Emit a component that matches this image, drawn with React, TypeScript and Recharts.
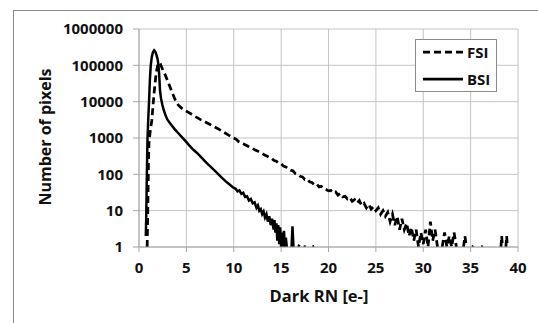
import {
    LineChart,
    Line,
    XAxis,
    YAxis,
    CartesianGrid,
    Legend,
    Label,
} from "recharts";

const font = "'Open Sans', 'DejaVu Sans', sans-serif";

const xTicks = [0, 5, 10, 15, 20, 25, 30, 35, 40];
const yTicks = [1, 10, 100, 1000, 10000, 100000, 1000000];

// FSI: dashed curve (x = dark read noise in e-, y = pixel count)
const fsiX = [
    0.86, 0.9, 0.95, 1.0, 1.05, 1.15, 1.25, 1.35, 1.42, 1.5, 1.6, 1.7, 1.8, 1.95,
    2.1, 2.25, 2.45, 2.75, 3.1, 3.46, 3.8, 4.16, 4.6, 5.1, 5.6, 6.0, 6.5, 7.0, 7.5,
    8.0, 8.5, 9.0, 9.5, 10.0, 10.25, 10.5, 10.75, 11.0, 11.25, 11.5, 11.75, 12.0,
    12.25, 12.5, 12.75, 13.0, 13.25, 13.5, 13.75, 14.0, 14.25, 14.5, 14.75, 15.0,
    15.25, 15.5, 15.75, 16.0, 16.25, 16.5, 16.75, 17.0, 17.25, 17.5, 17.75, 18.0,
    18.25, 18.5, 18.75, 19.0, 19.25, 19.5, 19.75, 20.0, 20.25, 20.5, 20.75, 21.0,
    21.25, 21.5, 21.75, 22.0, 22.25, 22.5, 22.75, 23.0, 23.25, 23.5, 23.75, 24.0,
    24.25, 24.5, 24.75, 25.0, 25.25, 25.5, 25.75, 26.0, 26.25, 26.5, 26.75, 27.0,
    27.25, 27.5, 27.75, 28.0, 28.25, 28.5, 28.75, 29.0, 29.25, 29.5, 29.75, 30.0,
    30.25, 30.5, 30.75, 31.0, 31.25, 31.5, 31.75, 32.0, 32.25, 32.5, 32.75, 33.0,
    33.25, 33.5, 33.75, 34.25, 34.4, 34.55, 34.7, 35.15, 35.3, 35.4, 36.15, 36.3,
    36.4, 38.2, 38.28, 38.36, 38.5, 38.72, 38.8, 38.88,
];
const fsiY = [
    1, 4, 25, 200, 700, 1300, 2000, 3000, 5000, 9000, 18000, 33000, 58000, 95000,
    120000, 110000, 82000, 56000, 33000, 19000, 11500, 8000, 6300, 5300, 4400, 3800,
    3200, 2750, 2350, 2000, 1700, 1420, 1180, 1000, 930, 800, 740, 690, 640, 590,
    560, 510, 470, 440, 400, 380, 340, 320, 290, 275, 240, 230, 200, 195, 170, 160,
    145, 130, 125, 105, 100, 88, 85, 72, 74, 62, 60, 52, 55, 45, 47, 40, 38, 35, 36,
    31, 33, 27, 30, 24, 25, 21, 23, 18, 20, 16, 19, 14, 16, 12, 15, 11, 13, 10, 12,
    8, 10, 7, 9, 5, 8, 4, 7, 3, 6, 3, 4.5, 2, 3.5, 1.5, 3, 1, 2.5, 1.2, 3, 1, 5, 1.5,
    3, 1, null, 1, 2.5, 1, 2, 1, 2.5, 1, null, 1, 2, 1, null, 1, 1.05, null, 1, 1.05,
    null, 1, 2, 1, null, 1, 2, 1,
];

// BSI: solid curve
const bsiX = [
    0.72, 0.76, 0.8, 0.85, 0.9, 0.98, 1.06, 1.15, 1.24, 1.35, 1.47, 1.6, 1.72, 1.85,
    1.96, 2.06, 2.14, 2.22, 2.32, 2.45, 2.6, 2.8, 3.0, 3.2, 3.46, 3.8, 4.16, 4.5,
    4.87, 5.3, 5.8, 6.2, 6.6, 7.1, 7.6, 8.1, 8.6, 9.1, 9.5, 9.9, 10.2, 10.4, 10.6,
    10.8, 11.0, 11.2, 11.4, 11.6, 11.8, 12.0, 12.2, 12.4, 12.55, 12.7, 12.85, 13.0,
    13.15, 13.3, 13.45, 13.6, 13.75, 13.9, 14.05, 14.2, 14.3, 14.4, 14.5, 14.6, 14.7,
    14.8, 14.9, 15.0, 15.1, 15.2, 15.3, 15.4, 15.5, 15.6, 15.65, 16.1, 16.2, 16.3,
    16.35, 16.8, 16.95, 17.05, 17.4, 17.6, 17.65, 18.3, 18.5,
];
const bsiY = [
    2, 6, 30, 200, 1000, 3500, 10000, 40000, 100000, 170000, 230000, 260000, 240000,
    190000, 150000, 100000, 50000, 20000, 12500, 8500, 6000, 4200, 3200, 2700, 2200,
    1700, 1350, 1080, 850, 630, 460, 370, 290, 210, 158, 118, 88, 66, 54, 44, 40, 34,
    36, 29, 31, 24, 25, 19, 21, 16, 17, 12, 14, 10, 11, 8, 9.5, 6.5, 8, 5, 7, 4, 6, 3,
    5.5, 2.5, 4.5, 1.5, 4, 1.2, 3.5, 1, 2.5, 1, 2.8, 1, 1.8, 1, null, 1, 3.7, 1, null,
    1, 1.15, null, 1, 1.05, null, 1, 1.05,
];

const toPoints = (xs: number[], ys: (number | null)[]) =>
    xs.map((x, i) => ({ x, y: ys[i] }));

const fsiData = toPoints(fsiX, fsiY);
const bsiData = toPoints(bsiX, bsiY);

const series = [
    { name: "FSI", dash: "7 4" },
    { name: "BSI", dash: undefined },
];

const XTick = (props: any) => {
    const { x, y, payload } = props;
    return (
        <text
            x={x}
            y={y}
            dy="0.71em"
            textAnchor="middle"
            fill="#111"
            fontFamily={font}
            fontWeight={700}
            fontSize={15}
        >
            {payload.value}
        </text>
    );
};

const YTick = (props: any) => {
    const { x, y, payload } = props;
    return (
        <text
            x={x}
            y={y}
            dy="0.355em"
            textAnchor="end"
            fill="#111"
            fontFamily={font}
            fontWeight={700}
            fontSize={15}
        >
            {payload.value}
        </text>
    );
};

const LegendBox = () => (
    <div
        style={{
            position: "relative",
            width: 80,
            height: 51,
            border: "1px solid #8c8c8c",
            background: "#fff",
            fontFamily: font,
            fontWeight: 700,
            fontSize: 15,
            color: "#111",
        }}
    >
        {series.map((s, i) => (
            <div
                key={s.name}
                style={{
                    position: "absolute",
                    left: 7,
                    top: i === 0 ? 4 : 31,
                    height: 16,
                    display: "flex",
                    alignItems: "center",
                    lineHeight: "16px",
                }}
            >
                <svg width={40} height={6}>
                    <line
                        x1={0}
                        y1={3}
                        x2={40}
                        y2={3}
                        stroke="#000"
                        strokeWidth={2.75}
                        strokeDasharray={s.dash}
                    />
                </svg>
                <span style={{ marginLeft: 4 }}>{s.name}</span>
            </div>
        ))}
    </div>
);

export default function App() {
    return (
        <div
            style={{
                position: "absolute",
                left: 0,
                top: 0,
                width: 538,
                height: 323,
                background: "#fff",
                overflow: "hidden",
            }}
        >
            <div
                style={{
                    position: "absolute",
                    left: 13,
                    top: 10,
                    width: 600,
                    height: 400,
                    borderTop: "1px solid #8a8a8a",
                    borderLeft: "1px solid #8a8a8a",
                }}
            />
            <div style={{ position: "absolute", left: 0, top: 0 }}>
                <LineChart
                    width={538}
                    height={323}
                    margin={{ top: 29, right: 20, left: 0, bottom: 0 }}
                >
                    <CartesianGrid stroke="#c4c4c4" strokeWidth={1} />
                    <XAxis
                        dataKey="x"
                        type="number"
                        domain={[0, 40]}
                        ticks={xTicks}
                        interval={0}
                        height={76}
                        stroke="#a6a6a6"
                        tickSize={5}
                        tickMargin={10}
                        tick={<XTick />}
                        allowDataOverflow
                    >
                        <Label
                            content={() => (
                                <text
                                    x={319}
                                    y={302}
                                    textAnchor="middle"
                                    fill="#111"
                                    fontFamily={font}
                                    fontWeight={700}
                                    fontSize={16.5}
                                >
                                    Dark RN [e-]
                                </text>
                            )}
                        />
                    </XAxis>
                    <YAxis
                        type="number"
                        scale="log"
                        domain={[1, 1000000]}
                        ticks={yTicks}
                        interval={0}
                        width={139}
                        stroke="#a6a6a6"
                        tickSize={6}
                        tickMargin={10}
                        tick={<YTick />}
                        allowDataOverflow
                    >
                        <Label
                            content={() => (
                                <text
                                    x={45}
                                    y={137}
                                    transform="rotate(-90 45 137)"
                                    textAnchor="middle"
                                    dominantBaseline="central"
                                    fill="#111"
                                    fontFamily={font}
                                    fontWeight={700}
                                    fontSize={16}
                                >
                                    Number of pixels
                                </text>
                            )}
                        />
                    </YAxis>
                    <Legend
                        layout="vertical"
                        align="center"
                        verticalAlign="middle"
                        wrapperStyle={{ left: 415, top: 39, width: "auto", margin: 0 }}
                        content={() => <LegendBox />}
                    />
                    <Line
                        data={fsiData}
                        dataKey="y"
                        name="FSI"
                        stroke="#000"
                        strokeWidth={2.75}
                        strokeDasharray="7 4"
                        dot={false}
                        activeDot={false}
                        type="linear"
                        isAnimationActive={false}
                    />
                    <Line
                        data={bsiData}
                        dataKey="y"
                        name="BSI"
                        stroke="#000"
                        strokeWidth={2.5}
                        dot={false}
                        activeDot={false}
                        type="linear"
                        isAnimationActive={false}
                    />
                </LineChart>
            </div>
        </div>
    );
}
